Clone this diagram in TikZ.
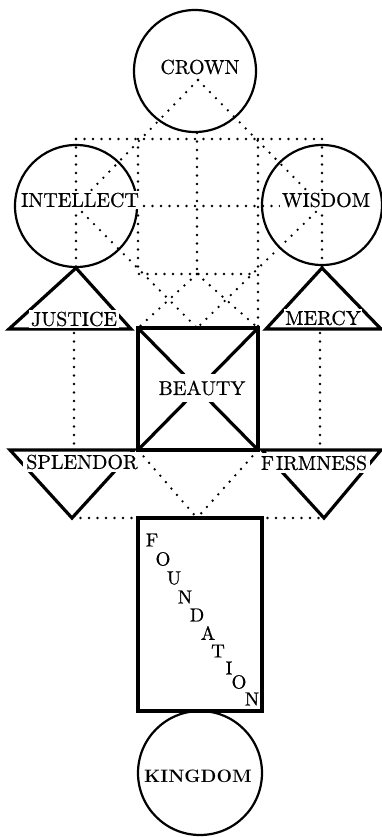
\documentclass[tikz,border=0pt]{standalone}
\usepackage{fontspec}
\setmainfont{lmroman10-regular.otf}[BoldFont=lmroman10-bold.otf]
\begin{document}
\begin{tikzpicture}[x=1pt,y=-1pt,
  dots/.style={line width=2.6pt, dash pattern=on 0pt off 8.5pt, line cap=round},
  ring/.style={draw, circle, line width=2.2pt, inner sep=0pt},
  heavy/.style={line width=3.2pt, line join=miter},
  lbl/.style={fill=white, inner sep=1.5pt, font=\fontsize{20}{24}\selectfont\addfontfeature{FakeBold=0.6}},
  ltr/.style={inner sep=0pt, font=\fontsize{19}{22}\selectfont\addfontfeature{FakeBold=0.6}}
]
\useasboundingbox (0,0) rectangle (382,837);

% key points
\coordinate (cv) at (198,80);
\coordinate (ic) at (76,206);
\coordinate (wc) at (322,206);
\coordinate (itop) at (76,139);
\coordinate (wtop) at (322,139);
\coordinate (ibot) at (76,268);
\coordinate (wbot) at (322,268);
\coordinate (rtl) at (138,139);
\coordinate (rtr) at (258,139);
\coordinate (rbl) at (138,274);
\coordinate (rbr) at (257,274);
\coordinate (rbm) at (197,274);
\coordinate (ctop) at (197,133);
\coordinate (btl) at (138,328);
\coordinate (btr) at (258,328);
\coordinate (btm) at (197,328);
\coordinate (bbl) at (138,450);
\coordinate (bbr) at (258,450);
\coordinate (jm) at (74,333);
\coordinate (sm) at (74,446);
\coordinate (mm) at (320,333);
\coordinate (fm) at (320,446);
\coordinate (sa) at (72,518);
\coordinate (fa) at (324,518);
\coordinate (ftm) at (197,518);
\coordinate (jl) at (9,329);
\coordinate (jr) at (131,329);
\coordinate (ml) at (266,329);
\coordinate (mr) at (381,329);
\coordinate (sl) at (10,450);
\coordinate (sr) at (134,450);
\coordinate (fl) at (262,450);
\coordinate (fr) at (381,450);

% dotted paths
\draw[dots] (cv) -- (ic);
\draw[dots] (cv) -- (wc);
\draw[dots] (itop) -- (wtop);
\draw[dots] (itop) -- (ibot);
\draw[dots] (wtop) -- (wbot);
\draw[dots] (ic) -- (wc);
\draw[dots] (rtl) -- (rbl) -- (rbr);
\draw[dots] (rtr) -- (btr);
\draw[dots] (ctop) -- (rbm);
\draw[dots] (rbm) -- (btl);
\draw[dots] (rbm) -- (btr);
\draw[dots] (ic) -- (btm);
\draw[dots] (wc) -- (btm);
\draw[dots] (jm) -- (sm);
\draw[dots] (mm) -- (fm);
\draw[dots] (bbl) -- (ftm);
\draw[dots] (bbr) -- (ftm);
\draw[dots] (sa) -- (fa);

% circles
\node[ring, minimum size=122pt] (crown) at (195,71) {};
\node[ring, minimum size=122pt] (intellect) at (76,206) {};
\node[ring, minimum size=120pt] (wisdom) at (322,205) {};
\node[ring, minimum size=124pt] (kingdom) at (200,773) {};

% triangles and boxes
\draw[heavy] (ibot) -- (jl) -- (jr) -- cycle;
\draw[heavy] (wbot) -- (ml) -- (mr) -- cycle;
\draw[heavy] (sl) -- (sr) -- (sa) -- cycle;
\draw[heavy] (fl) -- (fr) -- (fa) -- cycle;
\draw[heavy] (btl) rectangle (bbr);
\draw[heavy] (btl) -- (bbr);
\draw[heavy] (btr) -- (bbl);
\node[draw, heavy, minimum width=124pt, minimum height=193pt, inner sep=0pt] (foundation) at (200,614.5) {};

% labels
\node[lbl] (crownT) at (200,67) {CROWN};
\node[lbl] (intellectT) at (80,200) {INTELLECT};
\node[lbl] (wisdomT) at (326,200) {WISDOM};
\node[lbl] (justiceT) at (74,319) {JUSTICE};
\node[lbl] (mercyT) at (323,318) {MERCY};
\node[lbl, inner ysep=7pt] (beautyT) at (202,388) {BEAUTY};
\node[lbl, inner sep=3pt] (splendorT) at (82,462) {SPLENDOR};
\node[lbl, inner sep=3pt] (firmnessT) at (314,463) {F\kern2pt IRMNESS};
\node[lbl, font=\bfseries\fontsize{18}{22}\selectfont] (kingdomT) at (198,776) {KINGDOM};

% FOUNDATION
\node[ltr] (f1) at (152,540) {F};
\node[ltr] (f2) at (163,559) {O};
\node[ltr] (f3) at (174,578) {U};
\node[ltr] (f4) at (185,597) {N};
\node[ltr] (f5) at (197,615) {D};
\node[ltr] (f6) at (208,633) {A};
\node[ltr] (f7) at (218,651) {T};
\node[ltr] (f8) at (229,668) {I};
\node[ltr] (f9) at (239,682) {O};
\node[ltr] (f10) at (252,699) {N};
\end{tikzpicture}
\end{document}
